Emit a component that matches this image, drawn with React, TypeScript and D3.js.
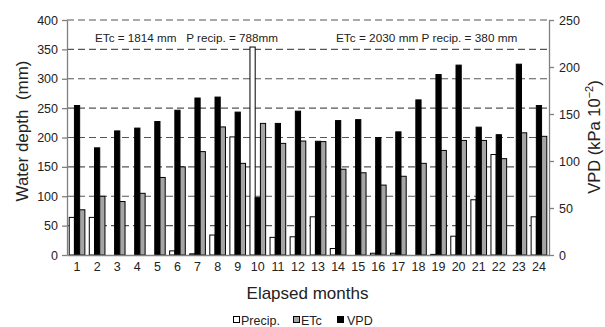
import { useEffect, useRef } from 'react';
import * as d3 from 'd3';

const months = d3.range(1, 25).map(String);
// water depth (mm), left axis
const precip = [64, 64, 0, 0, 0, 7, 2, 34, 201, 354, 30, 31, 65, 11, 0, 3, 3, 0, 1, 32, 94, 171, 0, 65];
const etc = [77, 100, 91, 105, 132, 150, 176, 218, 156, 224, 190, 194, 193, 146, 140, 119, 134, 156, 178, 195, 195, 164, 208, 202];
// VPD (kPa 10^-2), right axis
const vpd = [159, 114, 132, 135, 142, 154, 167, 168, 152, 61, 140, 153, 121, 143, 144, 125, 131, 165, 192, 202, 136, 128, 203, 159];
const leftTicks = [0, 50, 100, 150, 200, 250, 300, 350, 400];
const rightTicks = [0, 50, 100, 150, 200, 250];

export default function App() {
  const svgRef = useRef<SVGSVGElement>(null);

  useEffect(() => {
    const width = 605;
    const height = 327;
    const margin = { top: 20, right: 56, bottom: 72, left: 67 };
    const font = 'Liberation Sans, Arial, sans-serif';

    const svg = d3.select(svgRef.current);
    svg.selectAll('*').remove();

    const x0 = d3.scaleBand()
      .domain(months)
      .range([margin.left, width - margin.right])
      .paddingInner(0.22)
      .paddingOuter(0.11);

    const x1 = d3.scaleBand()
      .domain(['precip', 'vpd', 'etc'])
      .range([0, x0.bandwidth()]);

    const yL = d3.scaleLinear().domain([0, 400]).range([height - margin.bottom, margin.top]);
    const yR = d3.scaleLinear().domain([0, 250]).range([height - margin.bottom, margin.top]);

    // dashed gridlines
    svg.append('g')
      .selectAll('line')
      .data(leftTicks.slice(1))
      .join('line')
      .attr('x1', margin.left)
      .attr('x2', width - margin.right)
      .attr('y1', d => yL(d))
      .attr('y2', d => yL(d))
      .attr('stroke', '#555')
      .attr('stroke-width', 1.2)
      .attr('stroke-dasharray', '7,4');

    const rows = months.map((m, i) => ({ m, precip: precip[i], etc: etc[i], vpd: vpd[i] }));

    const groups = svg.append('g')
      .selectAll('g')
      .data(rows)
      .join('g')
      .attr('transform', d => `translate(${x0(d.m)},0)`);

    groups.filter(d => d.precip > 0).append('rect')
      .attr('x', x1('precip')!)
      .attr('width', x1.bandwidth())
      .attr('y', d => yL(d.precip))
      .attr('height', d => yL(0) - yL(d.precip))
      .attr('fill', '#fff')
      .attr('stroke', '#000')
      .attr('stroke-width', 1);

    groups.append('rect')
      .attr('x', x1('vpd')!)
      .attr('width', x1.bandwidth())
      .attr('y', d => yR(d.vpd))
      .attr('height', d => yR(0) - yR(d.vpd))
      .attr('fill', '#000')
      .attr('stroke', '#000')
      .attr('stroke-width', 1);

    groups.append('rect')
      .attr('x', x1('etc')!)
      .attr('width', x1.bandwidth())
      .attr('y', d => yL(d.etc))
      .attr('height', d => yL(0) - yL(d.etc))
      .attr('fill', '#a5a5a5')
      .attr('stroke', '#000')
      .attr('stroke-width', 1);

    // axes
    const styleAxis = (g: any) => {
      g.select('.domain').attr('stroke', '#808080').attr('stroke-width', 1.3);
      g.selectAll('.tick line').attr('stroke', '#808080').attr('stroke-width', 1.3);
      g.selectAll('.tick text').attr('fill', '#222').attr('font-family', font).attr('font-size', 12.5);
    };

    svg.append('g')
      .attr('transform', `translate(0,${height - margin.bottom})`)
      .call(d3.axisBottom(x0).tickSize(0).tickPadding(7))
      .call(styleAxis);

    svg.append('g')
      .attr('transform', `translate(${margin.left},0)`)
      .call(d3.axisLeft(yL).tickValues(leftTicks).tickSize(5).tickSizeOuter(0).tickPadding(4))
      .call(styleAxis);

    svg.append('g')
      .attr('transform', `translate(${width - margin.right},0)`)
      .call(d3.axisRight(yR).tickValues(rightTicks).tickSize(5).tickSizeOuter(0).tickPadding(5))
      .call(styleAxis);

    // annotations
    svg.append('text')
      .attr('x', 95).attr('y', 41.5)
      .attr('font-family', font).attr('font-size', 11.7).attr('fill', '#222')
      .attr('xml:space', 'preserve')
      .text('ETc = 1814 mm   P recip. = 788mm');

    svg.append('text')
      .attr('x', 336).attr('y', 41.5)
      .attr('font-family', font).attr('font-size', 11.8).attr('fill', '#222')
      .text('ETc = 2030 mm P recip. = 380 mm');

    // axis titles
    svg.append('text')
      .attr('transform', `translate(28,131) rotate(-90)`)
      .attr('text-anchor', 'middle')
      .attr('font-family', font).attr('font-size', 17).attr('fill', '#222')
      .attr('xml:space', 'preserve')
      .text('Water depth  (mm)');

    const vpdTitle = svg.append('text')
      .attr('transform', `translate(600,137) rotate(-90)`)
      .attr('text-anchor', 'middle')
      .attr('font-family', font).attr('font-size', 16.5).attr('fill', '#222');
    vpdTitle.append('tspan').text('VPD (kPa 10');
    vpdTitle.append('tspan').attr('dy', -7).attr('font-size', 11).text('−2');
    vpdTitle.append('tspan').attr('dy', 7).text(')');

    svg.append('text')
      .attr('x', 307.5).attr('y', 299)
      .attr('text-anchor', 'middle')
      .attr('font-family', font).attr('font-size', 17).attr('fill', '#222')
      .text('Elapsed months');

    // legend
    const legend = [
      { label: 'Precip.', fill: '#fff', x: 233, tx: 8 },
      { label: 'ETc', fill: '#a5a5a5', x: 293, tx: 8 },
      { label: 'VPD', fill: '#000', x: 337, tx: 10 },
    ];
    const lg = svg.append('g').selectAll('g').data(legend).join('g')
      .attr('transform', d => `translate(${d.x},320)`);
    lg.append('rect')
      .attr('x', 0.5).attr('y', -3.5).attr('width', 6).attr('height', 6)
      .attr('fill', d => d.fill).attr('stroke', '#000').attr('stroke-width', 1);
    lg.append('text')
      .attr('x', d => d.tx).attr('y', 4.5)
      .attr('font-family', font).attr('font-size', 12.5).attr('fill', '#222')
      .text(d => d.label);
  }, []);

  return (
    <svg ref={svgRef} width={605} height={327}
      style={{ position: 'absolute', left: 0, top: 0, background: '#fff' }} />
  );
}
